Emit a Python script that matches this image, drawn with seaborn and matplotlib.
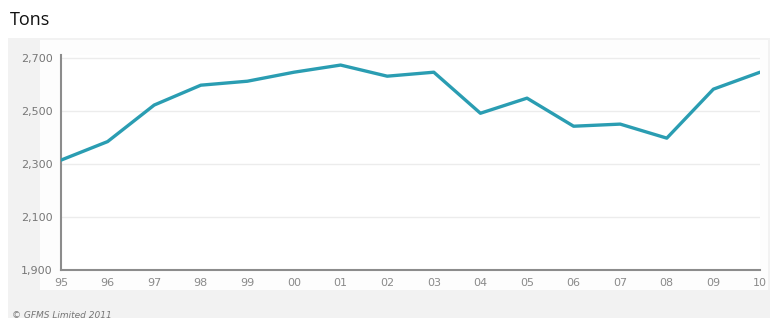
import matplotlib
matplotlib.use("Agg")
import matplotlib.pyplot as plt
import seaborn as sns
import pandas as pd
from matplotlib.patches import Rectangle

years = ["95", "96", "97", "98", "99", "00", "01", "02", "03", "04", "05", "06", "07", "08", "09", "10"]
tons = [2315, 2385, 2523, 2598, 2613, 2647, 2674, 2632, 2647, 2492, 2549, 2443, 2451, 2398, 2583, 2647]
y_ticks = [1900, 2100, 2300, 2500, 2700]
y_labels = ["1,900", "2,100", "2,300", "2,500", "2,700"]

df = pd.DataFrame({"idx": range(len(years)), "tons": tons})

sns.set_style("white")
fig = plt.figure(figsize=(7.75, 3.24), dpi=100)
fig.patch.set_facecolor("white")
# light gray panel
fig.add_artist(Rectangle((8 / 775, 6 / 324), 762 / 775, 280 / 324, transform=fig.transFigure,
                         facecolor="#f2f2f2", edgecolor="none", zorder=0))
# white inner area
fig.add_artist(Rectangle((40 / 775, 1 - 290 / 324), 728 / 775, 250 / 324, transform=fig.transFigure,
                         facecolor="#fdfdfd", edgecolor="none", zorder=0))
ax = fig.add_axes([61 / 775, 1 - 270 / 324, (760 - 61) / 775, (270 - 55) / 324])
ax.set_facecolor("white")
ax.patch.set_zorder(1)

sns.lineplot(data=df, x="idx", y="tons", ax=ax, color="#2a9db2", linewidth=2.4, zorder=3)

ax.set_xlim(0, len(years) - 1)
ax.set_ylim(1900, 2712)
ax.set_yticks(y_ticks)
ax.set_yticklabels(y_labels)
ax.set_xticks(range(len(years)))
ax.set_xticklabels(years)
for yv in y_ticks[1:]:
    ax.axhline(yv, color="#ececec", linewidth=1.0, zorder=2)
ax.tick_params(axis="both", length=0, labelsize=8, colors="#8a8a8a", pad=6)
for lbl in ax.get_yticklabels():
    lbl.set_color("#777777")
ax.set_xlabel("")
ax.set_ylabel("")
for s in ["top", "right"]:
    ax.spines[s].set_visible(False)
ax.spines["left"].set_color("#8c8c8c")
ax.spines["bottom"].set_color("#8c8c8c")
ax.spines["left"].set_linewidth(1.5)
ax.spines["bottom"].set_linewidth(1.5)

fig.text(10 / 775, 1 - 20 / 324, "Tons", fontsize=13, family="Open Sans", color="#111111", va="center")
fig.text(12 / 775, 1 - 315 / 324, "© GFMS Limited 2011", fontsize=6.5, color="#777777",
         style="italic", va="center")

fig.savefig("out.png", dpi=100)
